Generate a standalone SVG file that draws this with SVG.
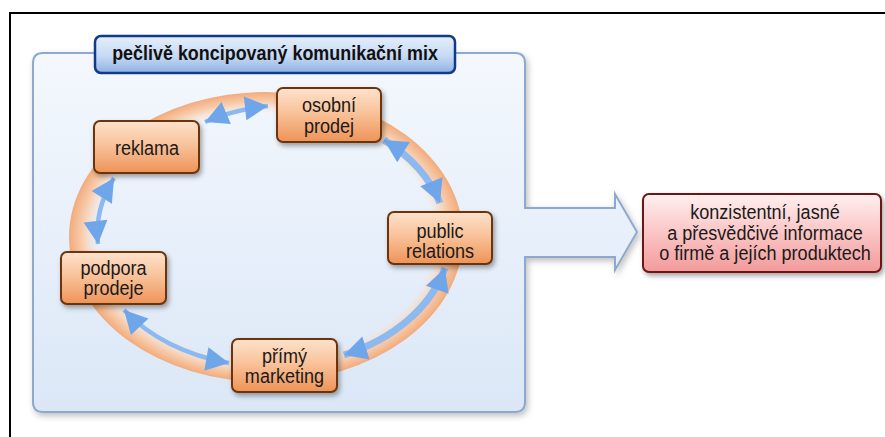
<svg xmlns="http://www.w3.org/2000/svg" width="885" height="437" viewBox="0 0 885 437">
<defs>
<style>
.lbl{font-family:"Liberation Sans",Arial,sans-serif;font-size:21px;fill:#1a1a1a;text-anchor:middle}
.ttl{font-family:"Liberation Sans",Arial,sans-serif;font-size:19.5px;font-weight:bold;fill:#111;text-anchor:middle}
.nd{fill:url(#gOr);stroke:#6b3410;stroke-width:2;filter:url(#sh)}
.cn{fill:none;stroke:#8cbaf0;stroke-width:4.5;marker-start:url(#ah);marker-end:url(#ah)}
.cw{stroke-width:7}
</style>
<linearGradient id="gOr" x1="0" y1="0" x2="0" y2="1">
<stop offset="0" stop-color="#fde2cc"/><stop offset="0.45" stop-color="#f9c39b"/><stop offset="1" stop-color="#ee9357"/>
</linearGradient>
<linearGradient id="gRed" x1="0" y1="0" x2="0" y2="1">
<stop offset="0" stop-color="#fff0f0"/><stop offset="0.5" stop-color="#fbc5c5"/><stop offset="1" stop-color="#f29a9a"/>
</linearGradient>
<linearGradient id="gPan" x1="0" y1="0" x2="0" y2="1">
<stop offset="0" stop-color="#f4f8fd"/><stop offset="1" stop-color="#dbe7f7"/>
</linearGradient>
<linearGradient id="gTtl" x1="0" y1="0" x2="0" y2="1">
<stop offset="0" stop-color="#e6effb"/><stop offset="0.55" stop-color="#c6d9f4"/><stop offset="1" stop-color="#8db1e4"/>
</linearGradient>
<radialGradient id="gRing" cx="0.5" cy="0.5" r="0.5">
<stop offset="0.85" stop-color="#fbe3d0" stop-opacity="0"/>
<stop offset="0.93" stop-color="#f8cfb0"/>
<stop offset="1" stop-color="#f2ab7c"/>
</radialGradient>
<filter id="sh" x="-20%" y="-20%" width="150%" height="160%">
<feDropShadow dx="2" dy="3" stdDeviation="2.5" flood-color="#000" flood-opacity="0.35"/>
</filter>
<filter id="shp" x="-10%" y="-10%" width="130%" height="130%">
<feDropShadow dx="2" dy="3" stdDeviation="3" flood-color="#000" flood-opacity="0.25"/>
</filter>
<marker id="ah" viewBox="-22 -13 28 26" refX="4" refY="0" markerUnits="userSpaceOnUse" markerWidth="28" markerHeight="26" orient="auto-start-reverse">
<path d="M-19,-12 L4,0 L-19,12 z" fill="#6fa6ea"/>
</marker>
</defs>
<rect width="885" height="437" fill="#fff"/>
<g id="frame" fill="none" stroke="#000" stroke-width="2">
<path d="M10,437 V13 H885"/>
</g>
<g id="panel">
<path d="M43,53 H515 Q525,53 525,63 V208 H615 V194 L637,232 L615,270 V257 H525 V402 Q525,412 515,412 H43 Q33,412 33,402 V63 Q33,53 43,53 Z" fill="url(#gPan)" stroke="#8ea9cf" stroke-width="2" filter="url(#shp)"/>
</g>
<g id="title">
<rect x="95" y="36" width="360" height="37" rx="6" fill="url(#gTtl)" stroke="#123a8a" stroke-width="2.5"/>
<text class="ttl" x="0" y="60" transform="matrix(0.92 0 0 1 275 0)">pečlivě koncipovaný komunikační mix</text>
</g>
<g id="ring">
<ellipse cx="266" cy="237" rx="197" ry="145" fill="url(#gRing)"/>
</g>
<g id="connectors">
<path class="cn" d="M205,122 A177 131 0 0 1 268,106"/>
<path class="cn cw" d="M384,140 A177 131 0 0 1 440,203"/>
<path class="cn cw" d="M445,268 A177 131 0 0 1 344,355"/>
<path class="cn" d="M229,363 A177 131 0 0 1 124,310"/>
<path class="cn" d="M98,244 A177 131 0 0 1 114,178"/>
</g>
<g id="reklama">
<rect class="nd" x="94" y="121" width="105" height="52" rx="6"/>
<text class="lbl" x="0" y="155" transform="matrix(0.86 0 0 1 147 0)">reklama</text>
</g>
<g id="osobni-prodej">
<rect class="nd" x="277" y="88" width="104" height="54" rx="6"/>
<text class="lbl" x="0" y="112" transform="matrix(0.86 0 0 1 329 0)">osobní</text>
<text class="lbl" x="0" y="133" transform="matrix(0.86 0 0 1 329 0)">prodej</text>
</g>
<g id="public-relations">
<rect class="nd" x="388" y="212" width="104" height="52" rx="6"/>
<text class="lbl" x="0" y="238" transform="matrix(0.86 0 0 1 440 0)">public</text>
<text class="lbl" x="0" y="258" transform="matrix(0.86 0 0 1 440 0)">relations</text>
</g>
<g id="podpora-prodeje">
<rect class="nd" x="61" y="252" width="105" height="52" rx="6"/>
<text class="lbl" x="0" y="275" transform="matrix(0.86 0 0 1 113.5 0)">podpora</text>
<text class="lbl" x="0" y="295" transform="matrix(0.86 0 0 1 113.5 0)">prodeje</text>
</g>
<g id="primy-marketing">
<rect class="nd" x="232" y="339" width="105" height="53" rx="6"/>
<text class="lbl" x="0" y="363" transform="matrix(0.86 0 0 1 284.5 0)">přímý</text>
<text class="lbl" x="0" y="383" transform="matrix(0.86 0 0 1 284.5 0)">marketing</text>
</g>
<g id="vysledek">
<rect x="643" y="194" width="238" height="78" rx="6" fill="url(#gRed)" stroke="#6e1616" stroke-width="2" filter="url(#sh)"/>
<text class="lbl" x="0" y="219" transform="matrix(0.86 0 0 1 765 0)">konzistentní, jasné</text>
<text class="lbl" x="0" y="240" transform="matrix(0.86 0 0 1 765 0)">a přesvědčivé informace</text>
<text class="lbl" x="0" y="260" transform="matrix(0.86 0 0 1 765 0)">o firmě a jejích produktech</text>
</g>
</svg>
